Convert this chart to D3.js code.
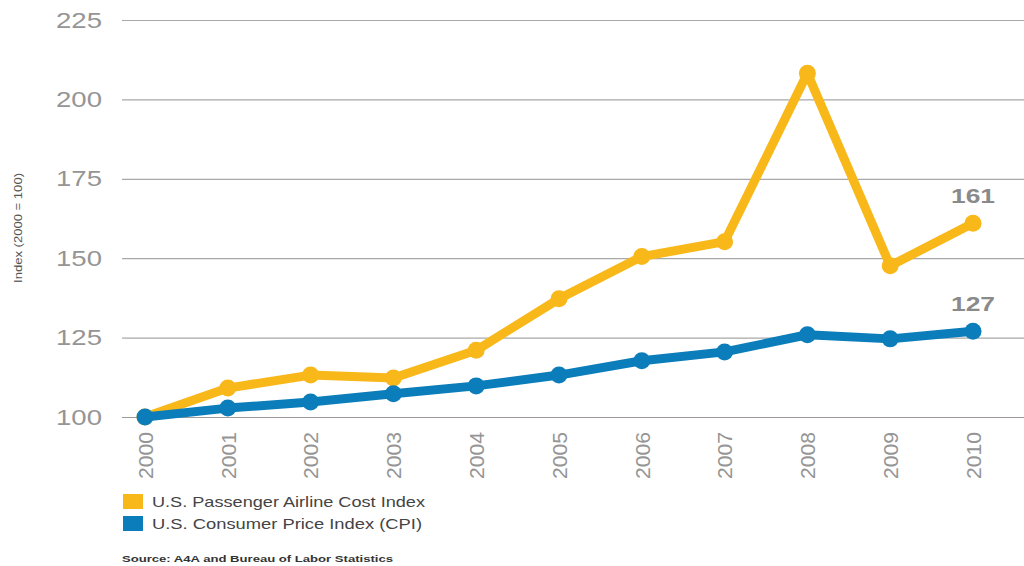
<!DOCTYPE html>
<html>
<head>
<meta charset="utf-8">
<script src="https://cdn.jsdelivr.net/npm/d3@7"></script>
<style>
  html, body { margin: 0; padding: 0; background: #fff; }
  svg { display: block; }
</style>
</head>
<body>
<svg id="chart" width="1024" height="566"></svg>
<script>
// Annual index values, 2000 = 100
const years = [2000, 2001, 2002, 2003, 2004, 2005, 2006, 2007, 2008, 2009, 2010];
const airlineCost = [100, 109.1, 113.2, 112.3, 121, 137.2, 150.5, 155.2, 208.2, 147.6, 161];
const cpi = [100, 102.8, 104.7, 107.3, 109.8, 113.2, 117.7, 120.5, 125.9, 124.6, 127];
const yTicks = [100, 125, 150, 175, 200, 225];
const seriesNames = ["U.S. Passenger Airline Cost Index", "U.S. Consumer Price Index (CPI)"];
const seriesColors = ["#F9B81A", "#0A7DBA"];
const endLabels = ["161", "127"];

const svg = d3.select("#chart");
const font = "Arial, 'Liberation Sans', sans-serif";

const x = d3.scalePoint().domain(years).range([145, 973]);
const y = d3.scaleLinear().domain([100, 225]).range([417, 20]);

// Horizontal gridlines with value labels
const yAxis = d3.axisLeft(y).tickValues(yTicks).tickSize(0).tickPadding(20);
const gy = svg.append("g").attr("transform", "translate(122,0)").call(yAxis);
gy.select(".domain").remove();
gy.selectAll("text")
  .attr("font-family", font).attr("font-size", 22).attr("fill", "#959595")
  .attr("textLength", 46).attr("lengthAdjust", "spacingAndGlyphs");
gy.selectAll(".tick").append("line")
  .attr("x1", 0).attr("x2", 1024 - 122)
  .attr("stroke", d => d === 100 ? "#a09a98" : "#a8a8a8").attr("stroke-width", 1.2);

// Rotated year labels
const xAxis = d3.axisBottom(x).tickSize(0).tickPadding(0);
const gx = svg.append("g").attr("transform", "translate(0,432)").call(xAxis);
gx.select(".domain").remove();
gx.selectAll("text")
  .attr("font-family", font).attr("font-size", 20).attr("fill", "#959595")
  .attr("transform", "rotate(-90)")
  .attr("text-anchor", "end")
  .attr("x", 0).attr("y", 0).attr("dy", "0.36em")
  .attr("textLength", 47).attr("lengthAdjust", "spacingAndGlyphs");

// Y-axis title
svg.append("text")
  .attr("transform", "translate(22,228) rotate(-90)")
  .attr("text-anchor", "middle")
  .attr("font-family", font).attr("font-size", 11).attr("fill", "#555")
  .attr("textLength", 110).attr("lengthAdjust", "spacingAndGlyphs")
  .text("Index (2000 = 100)");

// Lines with point markers
const line = d3.line().x((d, i) => x(years[i])).y(d => y(d));
[airlineCost, cpi].forEach((vals, s) => {
  const g = svg.append("g");
  g.append("path").datum(vals)
    .attr("d", line).attr("fill", "none")
    .attr("stroke", seriesColors[s]).attr("stroke-width", 9)
    .attr("stroke-linejoin", "round").attr("stroke-linecap", "round");
  g.selectAll("circle").data(vals).join("circle")
    .attr("cx", (d, i) => x(years[i])).attr("cy", d => y(d))
    .attr("r", 8.5).attr("fill", seriesColors[s]);
  // End value label
  const last = vals[vals.length - 1];
  svg.append("text")
    .attr("x", x(years[years.length - 1])).attr("y", y(last) - 20)
    .attr("text-anchor", "middle")
    .attr("font-family", font).attr("font-size", 21).attr("font-weight", "bold")
    .attr("fill", "#8a8a8a")
    .attr("textLength", 44).attr("lengthAdjust", "spacingAndGlyphs")
    .text(endLabels[s]);
});

// Legend
const legendWidths = [273, 270];
seriesNames.forEach((name, i) => {
  const ly = 494 + i * 22;
  svg.append("rect").attr("x", 123).attr("y", ly).attr("width", 20).attr("height", 15)
    .attr("fill", seriesColors[i]);
  svg.append("text").attr("x", 152).attr("y", ly + 8).attr("dy", "0.35em")
    .attr("font-family", font).attr("font-size", 15).attr("fill", "#444")
    .attr("textLength", legendWidths[i]).attr("lengthAdjust", "spacingAndGlyphs")
    .text(name);
});

// Source note
svg.append("text").attr("x", 122).attr("y", 562)
  .attr("font-family", font).attr("font-size", 9).attr("font-weight", "bold")
  .attr("fill", "#333")
  .attr("textLength", 271).attr("lengthAdjust", "spacingAndGlyphs")
  .text("Source: A4A and Bureau of Labor Statistics");
</script>
</body>
</html>
